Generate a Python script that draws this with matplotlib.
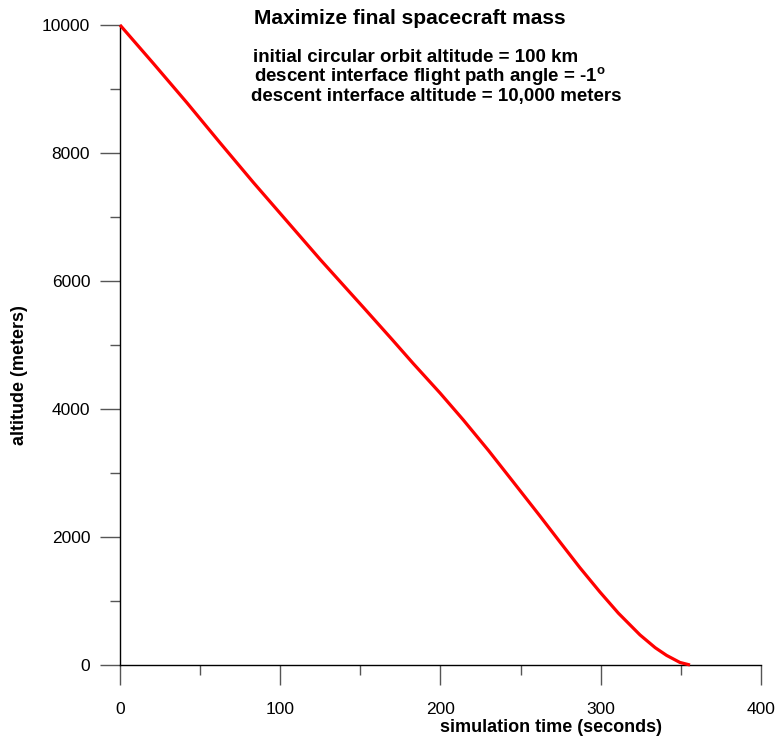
import numpy as np
import matplotlib.pyplot as plt
from matplotlib.ticker import MultipleLocator

plt.rcParams['font.family'] = ['Liberation Sans', 'DejaVu Sans']
plt.rcParams['mathtext.fontset'] = 'custom'
plt.rcParams['mathtext.rm'] = 'Liberation Sans'
plt.rcParams['mathtext.bf'] = 'Liberation Sans:bold'

# altitude history of the descent trajectory
time_s = [0, 20.8, 41.6, 62.4, 83.2, 104, 124.8, 143.5, 151.8, 170, 183,
          199.7, 214.2, 230, 245.4, 262, 274.6, 287, 299.5, 311, 324.5,
          334, 341.1, 349.4, 355.7]
altitude_m = [10000, 9400, 8790, 8160, 7540, 6940, 6340, 5820, 5590, 5080,
              4710, 4250, 3830, 3350, 2860, 2330, 1920, 1520, 1140, 810,
              470, 270, 150, 40, 0]

title = "Maximize final spacecraft mass"
notes = ["initial circular orbit altitude = 100 km",
         r"descent interface flight path angle = -1$^{\mathbf{o}}$",
         "descent interface altitude = 10,000 meters"]

W, H = 782, 742
fig = plt.figure(figsize=(W / 100, H / 100), dpi=100)
ax = fig.add_axes([120 / W, 1 - 665 / H, 641 / W, 640 / H])

ax.plot(time_s, altitude_m, color='red', lw=2.3, clip_on=False,
        solid_capstyle='butt', solid_joinstyle='round', zorder=5)

ax.set_xlim(0, 400)
ax.set_ylim(0, 10000)
ax.xaxis.set_major_locator(MultipleLocator(100))
ax.xaxis.set_minor_locator(MultipleLocator(50))
ax.yaxis.set_major_locator(MultipleLocator(2000))
ax.yaxis.set_minor_locator(MultipleLocator(1000))

for side in ['top', 'right']:
    ax.spines[side].set_visible(False)
for side in ['left', 'bottom']:
    ax.spines[side].set_linewidth(1.0)
    ax.spines[side].set_color('black')

ax.tick_params(which='major', direction='out', length=14.5, width=1.0,
               color='#555555', labelsize=12.5)
ax.tick_params(which='minor', direction='out', length=7.2, width=1.0,
               color='#555555')
ax.tick_params(axis='x', which='major', pad=12.5)
ax.tick_params(axis='y', which='major', pad=7)

ax.set_xlabel('simulation time (seconds)', fontsize=13, fontweight='bold')
ax.set_ylabel('altitude (meters)', fontsize=13, fontweight='bold')
ax.xaxis.set_label_coords(431 / 641, -(719 - 665) / 640)
ax.yaxis.set_label_coords(-(120 - 28) / 641, (665 - 375) / 640)

fig.text(410 / W, 1 - 18 / H, title, ha='center', va='center',
         fontsize=15, fontweight='bold')
for cx, cy, txt in zip([416, 430, 436], [57, 77, 97], notes):
    fig.text(cx / W, 1 - cy / H, txt, ha='center', va='center',
             fontsize=13.5, fontweight='bold')

fig.savefig('out.png', dpi=100)
